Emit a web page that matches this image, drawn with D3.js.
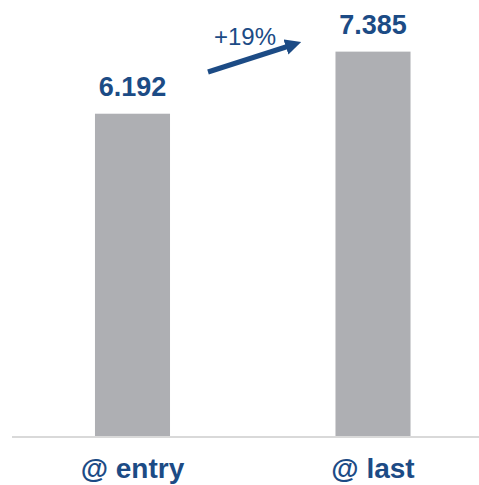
<!DOCTYPE html>
<html><head><meta charset="utf-8">
<script src="https://cdn.jsdelivr.net/npm/d3@7"></script>
<style>body{margin:0;background:#fff;}svg{display:block;font-family:"Liberation Sans",Arial,sans-serif;}</style>
</head><body>
<script>
const categories = ["@ entry", "@ last"];
const values = [6.192, 7.385];
const valueLabels = ["6.192", "7.385"];
const changeLabel = "+19%";

const W = 479, H = 485;
const svg = d3.select("body").append("svg").attr("width", W).attr("height", H);

const x = d3.scaleBand().domain(categories).range([12, 493.5]).paddingInner(0.688).paddingOuter(0.345);
const y = d3.scaleLinear().domain([0, 8.3]).range([436, 4]);

const blue = "#1c4b85";

svg.selectAll("rect.bar").data(values).join("rect")
  .attr("class", "bar")
  .attr("x", (d, i) => x(categories[i]))
  .attr("y", d => y(d))
  .attr("width", x.bandwidth())
  .attr("height", d => y(0) - y(d))
  .attr("fill", "#aeafb3");

svg.append("line").attr("x1", 12).attr("x2", W).attr("y1", y(0) + 1).attr("y2", y(0) + 1)
  .attr("stroke", "#d9d9d9").attr("stroke-width", 2);

svg.selectAll("text.val").data(values).join("text")
  .attr("class", "val")
  .attr("x", (d, i) => x(categories[i]) + x.bandwidth() / 2)
  .attr("y", d => y(d) - 18)
  .attr("text-anchor", "middle")
  .attr("font-size", 27).attr("font-weight", "bold").attr("fill", blue)
  .text((d, i) => valueLabels[i]);

svg.selectAll("text.cat").data(categories).join("text")
  .attr("class", "cat")
  .attr("x", d => x(d) + x.bandwidth() / 2)
  .attr("y", 478)
  .attr("text-anchor", "middle")
  .attr("font-size", 28).attr("font-weight", "bold").attr("fill", blue)
  .text(d => d);

// growth arrow
const defs = svg.append("defs");
defs.append("marker").attr("id", "ah").attr("viewBox", "0 0 10 10")
  .attr("refX", 2).attr("refY", 5).attr("markerWidth", 3.2).attr("markerHeight", 3.2)
  .attr("orient", "auto").attr("markerUnits", "strokeWidth")
  .append("path").attr("d", "M0,0 L10,5 L0,10 z").attr("fill", blue);

svg.append("line").attr("x1", 208).attr("y1", 72).attr("x2", 289).attr("y2", 46)
  .attr("stroke", blue).attr("stroke-width", 5).attr("marker-end", "url(#ah)");

svg.append("text").attr("x", 245).attr("y", 45).attr("text-anchor", "middle")
  .attr("font-size", 24).attr("fill", blue).text(changeLabel);
</script>
</body></html>
